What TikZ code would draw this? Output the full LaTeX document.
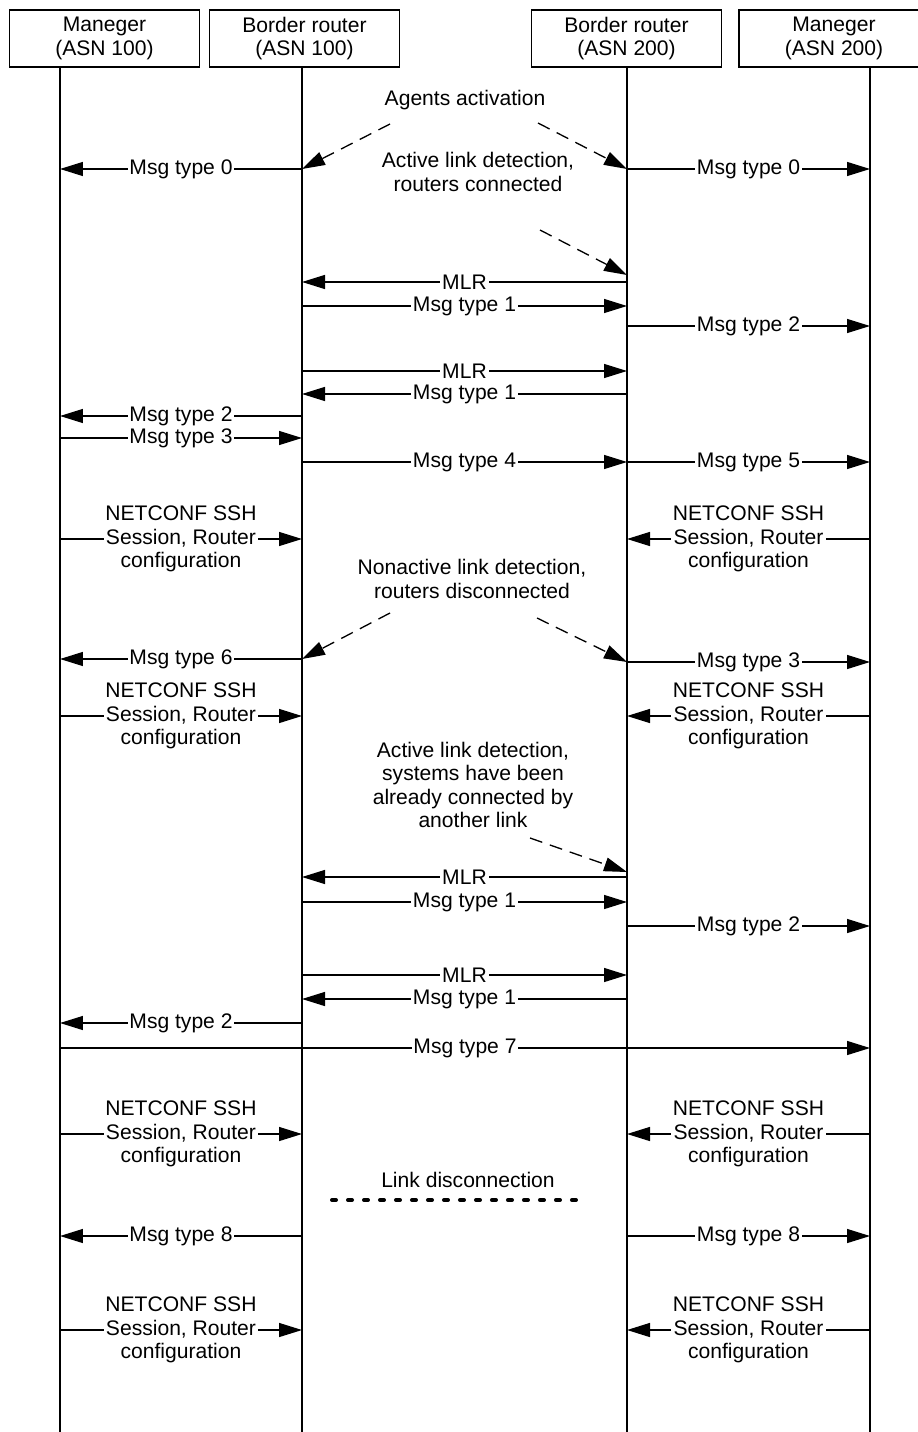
\documentclass[tikz,border=0pt]{standalone}
\usepackage{fontspec}
\setmainfont{Liberation Sans}
\usetikzlibrary{positioning, arrows.meta, calc}

\begin{document}
\begin{tikzpicture}[
    x=0.02cm, y=-0.02cm,    % pixel grid of the drawing
    line width=0.75pt,
    >={Triangle[length=0.46cm, width=0.28cm]},
    font=\fontsize{12}{13.3}\selectfont,
    head/.style={draw, rectangle, minimum width=3.8cm, minimum height=1.14cm, align=center, inner sep=0pt},
    msg/.style={->},
    lbl/.style={fill=white, inner sep=1pt, align=center},
    note/.style={align=center},
    hint/.style={->, dash pattern=on 0.26cm off 0.16cm}
]
    \useasboundingbox (0,0) rectangle (917,1432);

    % --- headers ---
    \node [head] (mgrA) at (104.5,38.5) {Maneger\\(ASN 100)};
    \node [head] (brA)  at (304.5,38.5) {Border router\\(ASN 100)};
    \node [head] (brB)  at (626.5,38.5) {Border router\\(ASN 200)};
    \node [head] (mgrB) at (834,38.5)   {Maneger\\(ASN 200)};

    % --- lifelines ---
    \coordinate (A) at (60,67);
    \coordinate (B) at (302,67);
    \coordinate (C) at (627,67);
    \coordinate (D) at (870,67);
    \coordinate (end) at (0,1432);
    \foreach \l in {A,B,C,D}
        \draw (\l) -- (\l |- end);

    % --- agents activation ---
    \node [note] (act) at (465,100) {Agents activation};
    \coordinate (h1) at (390,124);
    \coordinate (h2) at (538,123);
    \coordinate (r1) at (0,169);
    \draw [hint] (h1) -- (B |- r1);
    \draw [hint] (h2) -- (C |- r1);
    \draw [msg] (B |- r1) -- node[lbl] {Msg type 0} (A |- r1);
    \draw [msg] (C |- r1) -- node[lbl] {Msg type 0} (D |- r1);

    % --- active link, routers connected ---
    \node [note] (det1) at (478,172) {Active link detection,\\routers connected};
    \coordinate (h3) at (540,230);
    \coordinate (t3) at (627,275);
    \draw [hint] (h3) -- (t3);
    \coordinate (r2) at (0,282);
    \coordinate (r3) at (0,306);
    \coordinate (r4) at (0,326);
    \coordinate (r5) at (0,371);
    \coordinate (r6) at (0,394);
    \coordinate (r7) at (0,416);
    \coordinate (r8) at (0,438);
    \coordinate (r9) at (0,462);
    \draw [msg] (C |- r2) -- node[lbl] {MLR} (B |- r2);
    \draw [msg] (B |- r3) -- node[lbl] {Msg type 1} (C |- r3);
    \draw [msg] (C |- r4) -- node[lbl] {Msg type 2} (D |- r4);
    \draw [msg] (B |- r5) -- node[lbl] {MLR} (C |- r5);
    \draw [msg] (C |- r6) -- node[lbl] {Msg type 1} (B |- r6);
    \draw [msg] (B |- r7) -- node[lbl] {Msg type 2} (A |- r7);
    \draw [msg] (A |- r8) -- node[lbl] {Msg type 3} (B |- r8);
    \draw [msg] (B |- r9) -- node[lbl] {Msg type 4} (C |- r9);
    \draw [msg] (C |- r9) -- node[lbl] {Msg type 5} (D |- r9);

    % --- netconf 1 ---
    \coordinate (n1) at (0,539);
    \draw [msg] (A |- n1) -- node[lbl] {NETCONF SSH\\Session, Router\\configuration} (B |- n1);
    \draw [msg] (D |- n1) -- node[lbl] {NETCONF SSH\\Session, Router\\configuration} (C |- n1);

    % --- nonactive link, routers disconnected ---
    \node [note] (det2) at (472,579) {Nonactive link detection,\\routers disconnected};
    \coordinate (h4) at (390,613);
    \coordinate (h5) at (537,618);
    \coordinate (r10) at (0,659);
    \coordinate (r11) at (0,662);
    \draw [hint] (h4) -- (B |- r10);
    \draw [hint] (h5) -- (C |- r11);
    \draw [msg] (B |- r10) -- node[lbl] {Msg type 6} (A |- r10);
    \draw [msg] (C |- r11) -- node[lbl] {Msg type 3} (D |- r11);

    % --- netconf 2 ---
    \coordinate (n2) at (0,716);
    \draw [msg] (A |- n2) -- node[lbl] {NETCONF SSH\\Session, Router\\configuration} (B |- n2);
    \draw [msg] (D |- n2) -- node[lbl] {NETCONF SSH\\Session, Router\\configuration} (C |- n2);

    % --- active link, already connected ---
    \node [note] (det3) at (473,785) {Active link detection,\\systems have been\\already connected by\\another link};
    \coordinate (h6) at (530,838);
    \coordinate (t6) at (627,872);
    \draw [hint] (h6) -- (t6);
    \coordinate (r12) at (0,877);
    \coordinate (r13) at (0,902);
    \coordinate (r14) at (0,926);
    \coordinate (r15) at (0,975);
    \coordinate (r16) at (0,999);
    \coordinate (r17) at (0,1023);
    \coordinate (r18) at (0,1048);
    \draw [msg] (C |- r12) -- node[lbl] {MLR} (B |- r12);
    \draw [msg] (B |- r13) -- node[lbl] {Msg type 1} (C |- r13);
    \draw [msg] (C |- r14) -- node[lbl] {Msg type 2} (D |- r14);
    \draw [msg] (B |- r15) -- node[lbl] {MLR} (C |- r15);
    \draw [msg] (C |- r16) -- node[lbl] {Msg type 1} (B |- r16);
    \draw [msg] (B |- r17) -- node[lbl] {Msg type 2} (A |- r17);
    \draw [msg] (A |- r18) -- node[lbl] {Msg type 7} (D |- r18);

    % --- netconf 3 ---
    \coordinate (n3) at (0,1134);
    \draw [msg] (A |- n3) -- node[lbl] {NETCONF SSH\\Session, Router\\configuration} (B |- n3);
    \draw [msg] (D |- n3) -- node[lbl] {NETCONF SSH\\Session, Router\\configuration} (C |- n3);

    % --- link disconnection ---
    \node [note] (cut) at (468,1180) {Link disconnection};
    \coordinate (k1) at (332,1200);
    \coordinate (k2) at (580,1200);
    \draw [line width=0.08cm, line cap=round, dash pattern=on 0.08cm off 0.24cm] (k1) -- (k2);
    \coordinate (r19) at (0,1236);
    \draw [msg] (B |- r19) -- node[lbl] {Msg type 8} (A |- r19);
    \draw [msg] (C |- r19) -- node[lbl] {Msg type 8} (D |- r19);

    % --- netconf 4 ---
    \coordinate (n4) at (0,1330);
    \draw [msg] (A |- n4) -- node[lbl] {NETCONF SSH\\Session, Router\\configuration} (B |- n4);
    \draw [msg] (D |- n4) -- node[lbl] {NETCONF SSH\\Session, Router\\configuration} (C |- n4);

\end{tikzpicture}
\end{document}
